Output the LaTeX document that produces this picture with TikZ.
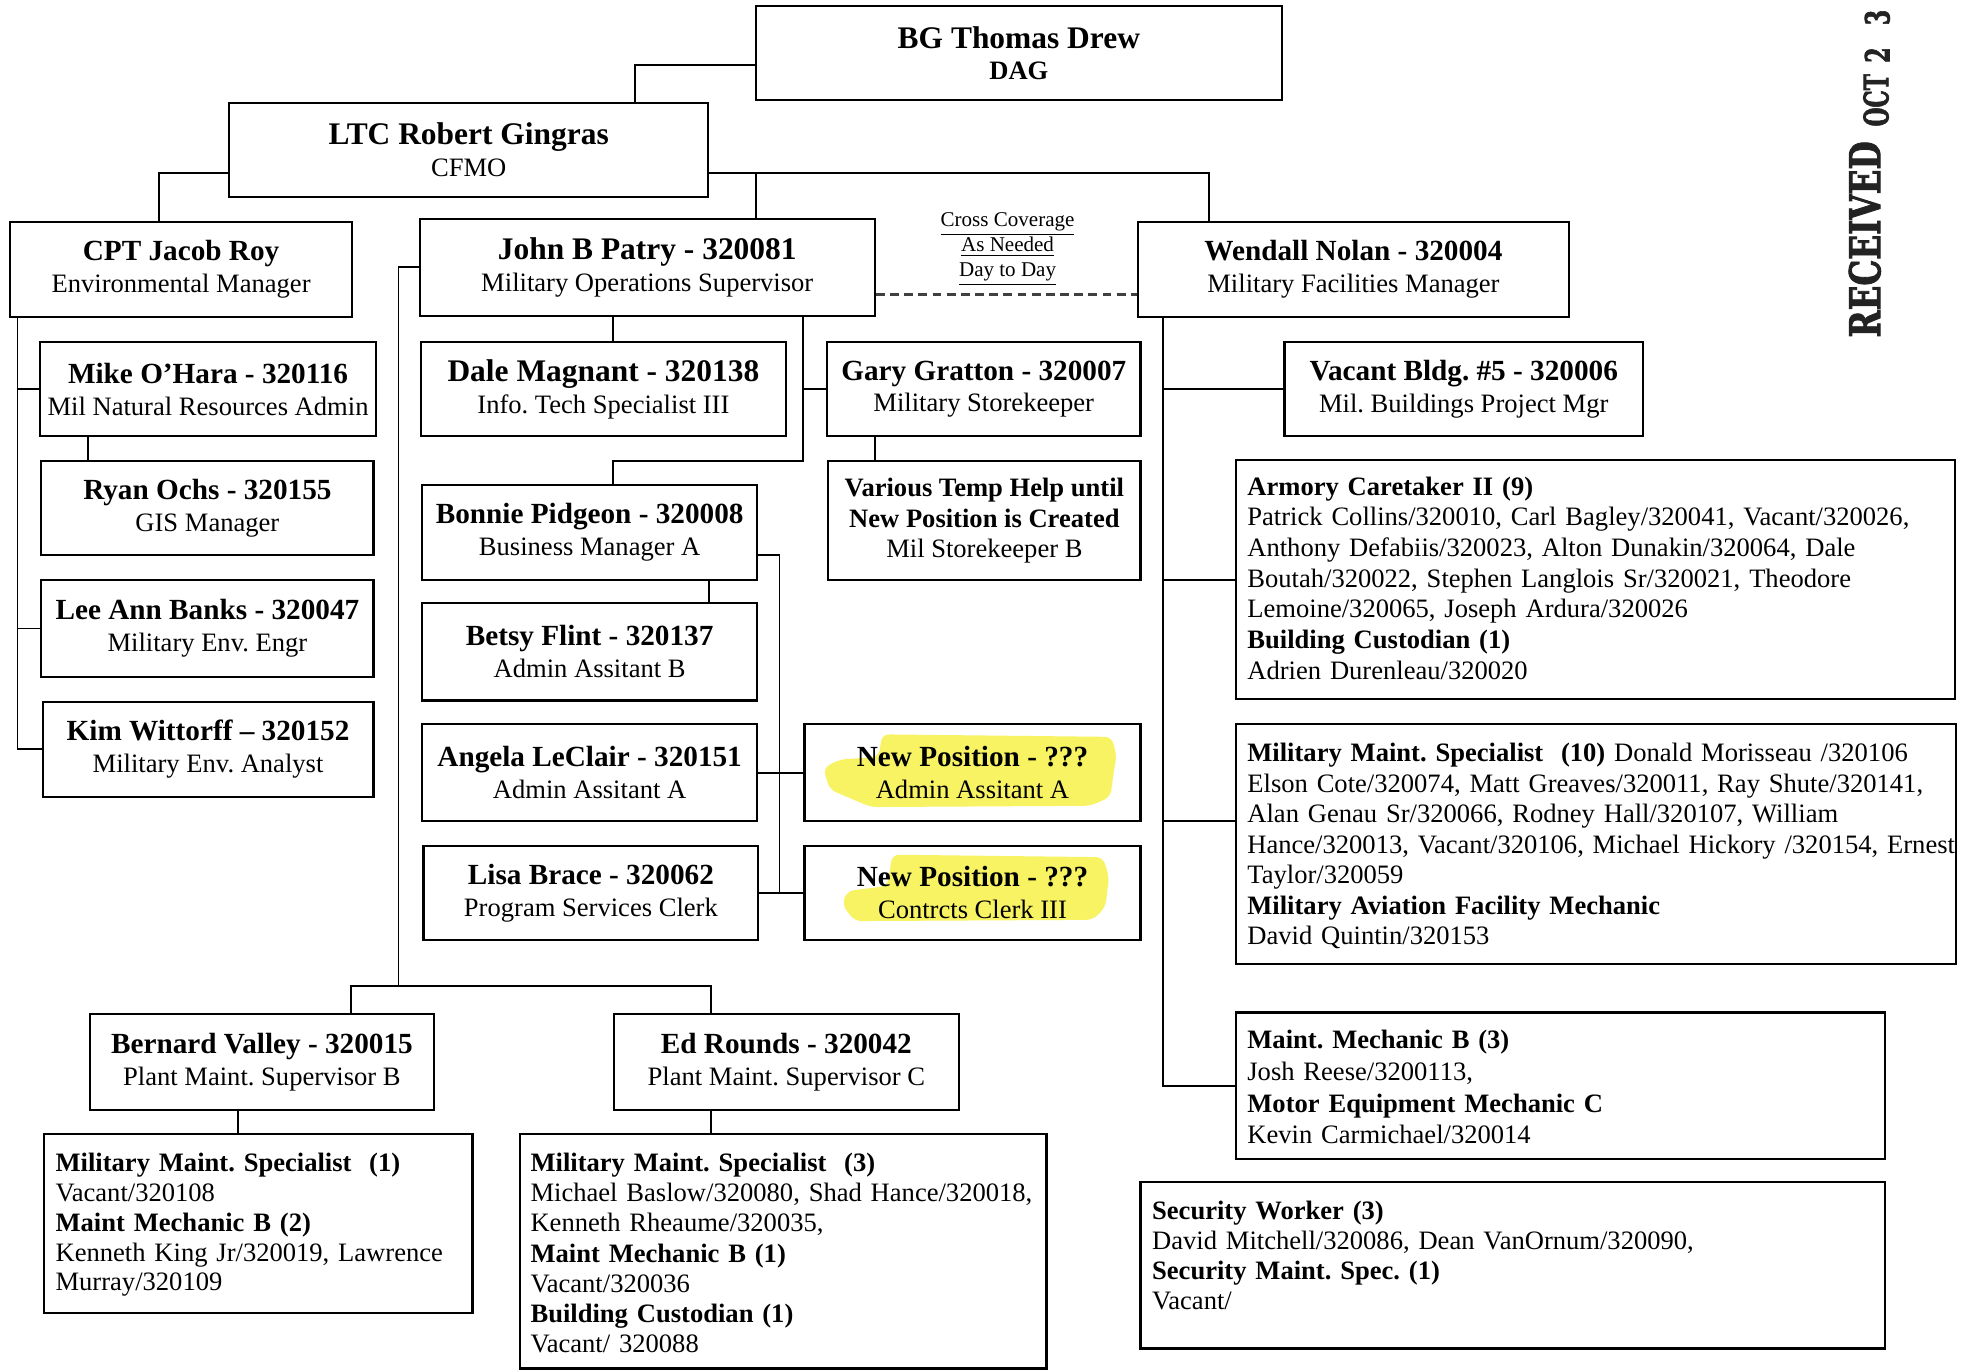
\documentclass[tikz,border=0pt]{standalone}
\usepackage{fontspec}
\setmainfont{Liberation Serif}
\newfontfamily\stampfont{DejaVu Serif}[BoldFeatures={FakeBold=2.5}]
\usepackage{graphicx}
\frenchspacing
\definecolor{hl}{RGB}{247,243,98}
\definecolor{stamp}{RGB}{35,35,35}
\tikzset{
  orgbox/.style={draw=black, line width=1pt, inner sep=0pt, align=center,
    font=\fontsize{12}{14.4}\selectfont},
  conn/.style={draw=black, line width=0.85pt},
  dashline/.style={draw=black!75, line width=1.5pt, dash pattern=on 4pt off 2.4pt},
  listtext/.style={inner sep=0pt, anchor=base west, text width=330pt, align=left},
  stamptext/.style={rotate=90, inner sep=0pt, text=stamp},
}
\newcommand\nm[1]{{\fontsize{13.2}{14.4}\selectfont\bfseries #1}}
\newcommand\nmb[1]{{\fontsize{14.2}{14.4}\selectfont\bfseries #1}}
\newcommand\obox[6]{\node[orgbox, minimum width={(#4-#2)*0.566pt}, minimum height={(#5-#3)*0.566pt}] (#1) at ({(#2+#4)/2},{(#3+#5)/2}) {#6};}
\newcommand\lbox[5]{\node[draw=black, line width=1pt, inner sep=0pt, minimum width={(#4-#2)*0.566pt}, minimum height={(#5-#3)*0.566pt}] (#1) at ({(#2+#4)/2},{(#3+#5)/2}) {};}

\begin{document}
\begin{tikzpicture}[x=0.566pt, y=-0.566pt]
\fill[white] (0,0) rectangle (1568,1094);
\useasboundingbox (0,0) rectangle (1568,1094);

% highlighter marks
\fill[hl, rounded corners=3pt] (704,586) -- (887,588) -- (891,603) -- (889,614) -- (886,636) -- (870,643) -- (695,644) -- (662,630) -- (657,613) -- (670,606) -- (701,604) -- cycle;
\fill[hl, rounded corners=3pt] (712,682) -- (880,684) -- (885,700) -- (882,724) -- (872,734) -- (682,735) -- (672,722) -- (676,711) -- (708,707) -- cycle;

% top levels
\obox{bg}{603}{5}{1023}{80}{\nmb{BG Thomas Drew}\\\textbf{DAG}}
\obox{ltc}{183}{82}{565}{157}{\nmb{LTC Robert Gingras}\\CFMO}
\obox{cpt}{8}{177}{281}{253}{\nm{CPT Jacob Roy}\\Environmental Manager}
\obox{jp}{335}{175}{698}{252}{\nmb{John B Patry - 320081}\\Military Operations Supervisor}
\obox{wn}{908}{177}{1252}{253}{\nm{Wendall Nolan - 320004}\\Military Facilities Manager}

\node[align=center, inner sep=0pt, font=\fontsize{9.5}{11.3}\selectfont] (cc) at (804,199)
  {\underline{Cross Coverage}\\\underline{As Needed}\\\underline{Day to Day}};

% environmental column
\obox{mike}{32}{273}{300}{348}{\nm{Mike O’Hara - 320116}\\Mil Natural Resources Admin}
\obox{ryan}{33}{368}{298}{443}{\nm{Ryan Ochs - 320155}\\GIS Manager}
\obox{lee}{33}{463}{298}{540}{\nm{Lee Ann Banks - 320047}\\Military Env. Engr}
\obox{kim}{34}{560}{298}{636}{\nm{Kim Wittorff – 320152}\\Military Env. Analyst}

% operations column
\obox{dale}{336}{273}{627}{348}{\nmb{Dale Magnant - 320138}\\Info. Tech Specialist III}
\obox{gary}{660}{273}{910}{348}{\nm{Gary Gratton - 320007}\\Military Storekeeper}
\node[orgbox, font=\fontsize{12}{13.6}\selectfont, minimum width={249*0.566pt}, minimum height={95*0.566pt}] (temp) at (785.5,415.5)
  {\textbf{Various Temp Help until}\\\textbf{New Position is Created}\\Mil Storekeeper B};
\obox{bonnie}{337}{387}{604}{463}{\nm{Bonnie Pidgeon - 320008}\\Business Manager A}
\obox{betsy}{337}{481}{604}{559}{\nm{Betsy Flint - 320137}\\Admin Assitant B}
\obox{angela}{337}{578}{604}{655}{\nm{Angela LeClair - 320151}\\Admin Assitant A}
\obox{lisa}{338}{675}{605}{750}{\nm{Lisa Brace - 320062}\\Program Services Clerk}
\obox{np1}{642}{578}{910}{655}{\nm{New Position - ???}\\Admin Assitant A}
\obox{np2}{642}{675}{910}{750}{\nm{New Position - ???}\\Contrcts Clerk III}
\obox{bv}{72}{809}{346}{886}{\nm{Bernard Valley - 320015}\\Plant Maint. Supervisor B}
\obox{ed}{490}{809}{765}{886}{\nm{Ed Rounds - 320042}\\Plant Maint. Supervisor C}

% facilities column
\obox{vb}{1025}{273}{1311}{348}{\nm{Vacant Bldg. \#5 - 320006}\\Mil. Buildings Project Mgr}

% list boxes
\lbox{arm}{986}{367}{1560}{558}
\lbox{mms}{986}{578}{1561}{769}
\lbox{mm}{986}{808}{1504}{925}
\lbox{sec}{910}{943}{1504}{1076}
\lbox{bvc}{35}{905}{377}{1048}
\lbox{edc}{415}{905}{835}{1092}

\node[listtext, font=\fontsize{12}{13.87}\selectfont] (armT) at (995,395)
 {\textbf{Armory Caretaker II (9)}\\
  Patrick Collins/320010, Carl Bagley/320041, Vacant/320026,\\
  Anthony Defabiis/320023, Alton Dunakin/320064, Dale\\
  Boutah/320022, Stephen Langlois Sr/320021, Theodore\\
  Lemoine/320065, Joseph Ardura/320026\\
  \textbf{Building Custodian (1)}\\
  Adrien Durenleau/320020};
\node[listtext, font=\fontsize{12}{13.77}\selectfont] (mmsT) at (995,608)
 {\textbf{Military Maint. Specialist\ \ (10)} Donald Morisseau /320106\\
  Elson Cote/320074, Matt Greaves/320011, Ray Shute/320141,\\
  Alan Genau Sr/320066, Rodney Hall/320107, William\\
  Hance/320013, Vacant/320106, Michael Hickory /320154, Ernest\\
  Taylor/320059\\
  \textbf{Military Aviation Facility Mechanic}\\
  David Quintin/320153};
\node[listtext, font=\fontsize{12}{14.3}\selectfont] (mmT) at (995,837)
 {\textbf{Maint. Mechanic B (3)}\\
  Josh Reese/3200113,\\
  \textbf{Motor Equipment Mechanic C}\\
  Kevin Carmichael/320014};
\node[listtext, font=\fontsize{12}{13.6}\selectfont] (secT) at (919,973)
 {\textbf{Security Worker (3)}\\
  David Mitchell/320086, Dean VanOrnum/320090,\\
  \textbf{Security Maint. Spec. (1)}\\
  Vacant/};
\node[listtext, font=\fontsize{12}{13.45}\selectfont] (bvcT) at (44,935)
 {\textbf{Military Maint. Specialist\ \ (1)}\\
  Vacant/320108\\
  \textbf{Maint Mechanic B (2)}\\
  Kenneth King Jr/320019, Lawrence\\
  Murray/320109};
\node[listtext, font=\fontsize{12}{13.6}\selectfont] (edcT) at (423,935)
 {\textbf{Military Maint. Specialist\ \ (3)}\\
  Michael Baslow/320080, Shad Hance/320018,\\
  Kenneth Rheaume/320035,\\
  \textbf{Maint Mechanic B (1)}\\
  Vacant/320036\\
  \textbf{Building Custodian (1)}\\
  Vacant/ 320088};

% connectors
\draw[conn] (bg.west |- 0,52) -| (ltc.north -| 507,0);
\draw[conn] (ltc.east |- 0,138) -| (wn.north -| 965,0);
\coordinate (j1) at (603,138);
\draw[conn] (j1) -- (jp.north -| j1);
\draw[conn] (ltc.west |- 0,138) -| (cpt.north -| 127,0);
\draw[conn] (cpt.south -| 14,0) |- (kim.west);
\draw[conn] (mike.west) -- (mike.west -| 14,0);
\draw[conn] (lee.west) -- (lee.west -| 14,0);
\draw[conn] (mike.south -| 70,0) -- (ryan.north -| 70,0);
\draw[conn] (jp.south -| 489,0) -- (dale.north -| 489,0);
\draw[conn] (jp.south -| 641,0) |- (489,368) -- (bonnie.north -| 489,0);
\draw[conn] (gary.west -| 641,0) -- (gary.west);
\draw[conn] (gary.south -| 698,0) -- (temp.north -| 698,0);
\draw[conn] (bonnie.south -| 566,0) -- (betsy.north -| 566,0);
\draw[conn] (bonnie.east |- 0,443) -| (lisa.east -| 622,0);
\draw[conn] (angela.east) -- (np1.west);
\draw[conn] (lisa.east) -- (np2.west);
\draw[conn] (jp.west |- 0,213) -| (318,787);
\draw[conn] (bv.north -| 280,0) |- (567,787) -- (ed.north -| 567,0);
\draw[conn] (bv.south -| 190,0) -- (bvc.north -| 190,0);
\draw[conn] (ed.south -| 567,0) -- (edc.north -| 567,0);
\draw[conn] (wn.south -| 928,0) |- (mm.west);
\draw[conn] (vb.west -| 928,0) -- (vb.west);
\draw[conn] (arm.west -| 928,0) -- (arm.west);
\draw[conn] (928,655) -- (mms.west |- 0,655);
\draw[dashline] (jp.east |- 0,235) -- (wn.west |- 0,235);

% received stamp
\node[stamptext, font=\stampfont\fontsize{14.7}{14.7}\selectfont\bfseries] (rcv) at (1488,191) {\scalebox{1}[1.3]{RECEIVED}};
\node[stamptext, font=\stampfont\fontsize{9.8}{9.8}\selectfont\bfseries] (oct) at (1497,80) {\scalebox{1}[1.55]{OCT}};
\node[stamptext, font=\stampfont\fontsize{10}{10}\selectfont\bfseries] (day) at (1498,29) {\scalebox{1}[1.5]{2\hspace{10pt}3}};
\end{tikzpicture}
\end{document}
